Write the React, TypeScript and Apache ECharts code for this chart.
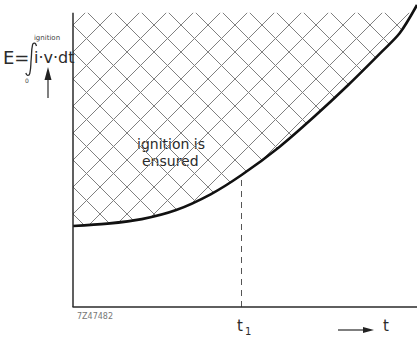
import React, { useEffect, useRef } from 'react';
import * as echarts from 'echarts';

// Time axis (arbitrary units, 0..100) and the ignition energy curve E(t)
const timeSteps = [0, 10, 20, 30, 40, 49, 60, 70, 80, 90, 95, 100];
const ignitionEnergy = [26.8, 27.6, 29.1, 32.1, 37.3, 43.7, 53.0, 62.9, 73.5, 84.8, 90.7, 100];
const T1 = 49;
const Y_AXIS_TOP = 97.4;
const figureCode = '7Z47482';

// cross-hatch spacing (px) and phase of one crossing point
const HATCH = 27;
const HATCH_PHASE = [73, 25];
const FONT = '"DejaVu Sans", "Liberation Sans", sans-serif';
const INK = '#2b2b2b';

function txt(text: string, x: number, y: number, size: number, align = 'left', fill = INK) {
  return {
    type: 'text',
    x,
    y,
    silent: true,
    style: {
      text,
      fill,
      font: `${size}px ${FONT}`,
      align,
      verticalAlign: 'middle',
      textAlign: align,
      textVerticalAlign: 'middle',
    },
  };
}

// Diagonal cross-hatching over the plot area; the region below the curve is masked later.
function renderHatch(params: any, api: any) {
  const cs = params.coordSys;
  const x0 = cs.x;
  const x1 = cs.x + cs.width;
  const y1 = cs.y + cs.height;
  const y0 = api.coord([0, Y_AXIS_TOP])[1];
  const [px, py] = HATCH_PHASE;
  const children: any[] = [];
  const style = { stroke: '#808080', lineWidth: 1 };
  // family 1: y = x + c
  const c1 = py - px;
  for (let k = -60; k <= 60; k++) {
    const c = c1 + k * HATCH;
    const xs = Math.max(x0, y0 - c);
    const xe = Math.min(x1, y1 - c);
    if (xe > xs) children.push({ type: 'line', shape: { x1: xs, y1: xs + c, x2: xe, y2: xe + c }, style });
  }
  // family 2: y = c - x
  const c2 = py + px;
  for (let k = -60; k <= 60; k++) {
    const c = c2 + k * HATCH;
    const xs = Math.max(x0, c - y1);
    const xe = Math.min(x1, c - y0);
    if (xe > xs) children.push({ type: 'line', shape: { x1: xs, y1: c - xs, x2: xe, y2: c - xe }, style });
  }
  return { type: 'group', children };
}

export default function App() {
  const ref = useRef<HTMLDivElement>(null);

  useEffect(() => {
    if (!ref.current) return;
    const chart = echarts.init(ref.current, null, { renderer: 'svg' });
    const curve = timeSteps.map((t, i) => [t, ignitionEnergy[i]]);
    const eAtT1 = ignitionEnergy[timeSteps.indexOf(T1)];

    chart.setOption({
      animation: false,
      backgroundColor: '#ffffff',
      grid: { left: 73, right: 0, top: 5, bottom: 32 },
      xAxis: {
        type: 'value',
        min: 0,
        max: 100,
        z: 10,
        axisLine: { show: true, lineStyle: { color: INK, width: 1.5 } },
        axisTick: { show: false },
        axisLabel: { show: false },
        splitLine: { show: false },
      },
      yAxis: {
        type: 'value',
        min: 0,
        max: 100,
        axisLine: { show: false },
        axisTick: { show: false },
        axisLabel: { show: false },
        splitLine: { show: false },
      },
      series: [
        {
          name: 'hatch',
          type: 'custom',
          silent: true,
          clip: false,
          data: [[0, 0]],
          renderItem: renderHatch,
          z: 1,
        },
        {
          name: 'E',
          type: 'line',
          data: curve,
          smooth: 0.3,
          symbol: 'none',
          silent: true,
          lineStyle: { color: '#111', width: 2.6 },
          areaStyle: { origin: 'start', color: '#ffffff', opacity: 1 },
          z: 2,
          markLine: {
            silent: true,
            symbol: ['none', 'none'],
            label: { show: false },
            lineStyle: { color: '#555', width: 1, type: [6, 5] },
            data: [[{ coord: [T1, 0] }, { coord: [T1, eAtT1] }]],
          },
        },
        {
          name: 'E axis',
          type: 'line',
          data: [[0, 0], [0, Y_AXIS_TOP]],
          symbol: 'none',
          silent: true,
          lineStyle: { color: INK, width: 1.5 },
          z: 3,
        },
      ],
      graphic: [
        txt('E=', 3, 57, 18),
        {
          type: 'polyline',
          silent: true,
          shape: {
            points: [[36.5, 46], [34.8, 43.2], [32.6, 44.6], [31.2, 59], [29.8, 73.4], [27.6, 75.4], [25.8, 73]],
            smooth: 0.45,
          },
          style: { stroke: INK, lineWidth: 1.3, fill: null },
        },
        txt('ignition', 47, 38, 7, 'center', '#444'),
        txt('0', 27, 80, 6, 'center', '#444'),
        txt('i·v·dt', 34, 57, 16),
        { type: 'line', silent: true, shape: { x1: 48, y1: 98, x2: 48, y2: 78 }, style: { stroke: INK, lineWidth: 1.2 } },
        { type: 'polygon', silent: true, shape: { points: [[48, 67], [44.5, 80], [51.5, 80]] }, style: { fill: '#222' } },
        txt('ignition is', 137, 144, 14),
        txt('ensured', 142, 161, 14),
        txt('t', 240, 326, 15, 'center'),
        txt('1', 245, 331, 10),
        { type: 'line', silent: true, shape: { x1: 338, y1: 330, x2: 364, y2: 330 }, style: { stroke: INK, lineWidth: 1.2 } },
        { type: 'polygon', silent: true, shape: { points: [[363, 327], [374, 330], [363, 333]] }, style: { fill: '#222' } },
        txt('t', 383, 326, 15),
        txt(figureCode, 77, 316, 8, 'left', '#777'),
      ],
    });

    return () => chart.dispose();
  }, []);

  return (
    <div
      ref={ref}
      style={{ position: 'absolute', left: 0, top: 0, width: 417, height: 339, background: '#fff' }}
    />
  );
}
